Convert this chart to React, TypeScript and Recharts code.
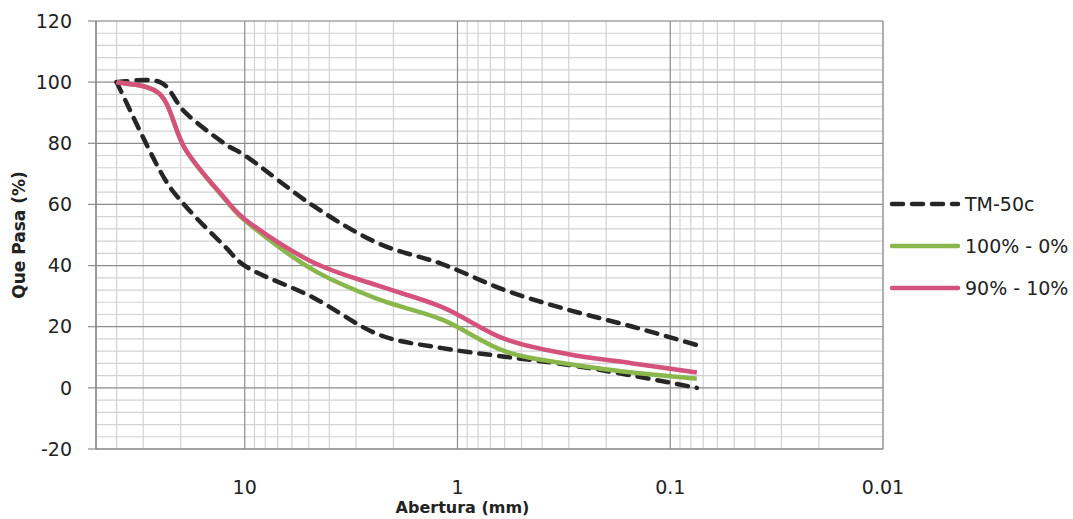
import React from "react";
import { LineChart, Line, XAxis, YAxis, CartesianGrid } from "recharts";

// tamices (mm) y porcentaje que pasa
const aberturas = [40, 25, 19, 12.5, 9.5, 4.75, 2.36, 1.18, 0.6, 0.3, 0.15, 0.075];
const tmSuperior = [100, 100, 90, 80, 75, 59.5, 47.3, 40.5, 32, 25.5, 20, 14];
const tmInferior = [100, 71, 59.5, 46.5, 39, 29.5, 17.5, 13, 10.2, 7.5, 4, 0];
const mezcla100 = [100, 96, 78, 62, 53.5, 38.5, 29, 22.3, 12, 7.8, 5, 3];
const mezcla90 = [100, 96, 78, 62.3, 54, 41, 33.4, 26.4, 16, 11, 8, 5];

const xTicks = [10, 1, 0.1, 0.01];
const xMinorTicks = [
  40, 30, 20, 9, 8, 7, 6, 5, 4, 3, 2, 0.9, 0.8, 0.7, 0.6, 0.5, 0.4, 0.3, 0.2,
  0.09, 0.08, 0.07, 0.06, 0.05, 0.04, 0.03, 0.02,
];
const yTicks = [-20, 0, 20, 40, 60, 80, 100, 120];
const yMinorTicks = [
  -16, -12, -8, -4, 4, 8, 12, 16, 24, 28, 32, 36, 44, 48, 52, 56, 64, 68, 72,
  76, 84, 88, 92, 96, 104, 108, 112, 116,
];

const data = aberturas.map((x, i) => ({
  x,
  sup: tmSuperior[i],
  inf: tmInferior[i],
  m100: mezcla100[i],
  m90: mezcla90[i],
}));

const font = "'DejaVu Sans', sans-serif";
const negro = "#262626";
const verde = "#89b74b";
const rosa = "#d4527b";

// suavizado tipo Excel (Catmull-Rom en bezier)
function curvaSuave(context: any) {
  let pts: number[][] = [];
  return {
    areaStart() {},
    areaEnd() {},
    lineStart() {
      pts = [];
    },
    lineEnd() {
      if (!pts.length) return;
      context.moveTo(pts[0][0], pts[0][1]);
      for (let i = 0; i < pts.length - 1; i++) {
        const p0 = pts[i - 1] || pts[i];
        const p1 = pts[i];
        const p2 = pts[i + 1];
        const p3 = pts[i + 2] || p2;
        context.bezierCurveTo(
          p1[0] + (p2[0] - p0[0]) / 6,
          p1[1] + (p2[1] - p0[1]) / 6,
          p2[0] - (p3[0] - p1[0]) / 6,
          p2[1] - (p3[1] - p1[1]) / 6,
          p2[0],
          p2[1]
        );
      }
    },
    point(x: number, y: number) {
      pts.push([+x, +y]);
    },
  };
}

function TituloX(props: any) {
  const vb = props.viewBox || { x: 96, y: 449, width: 787, height: 68 };
  return (
    <text
      x={vb.x + vb.width / 2 - 27}
      y={vb.y + 64}
      textAnchor="middle"
      fontFamily={font}
      fontWeight="bold"
      fontSize={16}
      fill="#222"
    >
      Abertura (mm)
    </text>
  );
}

function TituloY(props: any) {
  const vb = props.viewBox || { x: 0, y: 21, width: 96, height: 428 };
  const cx = vb.x + 19;
  const cy = vb.y + vb.height / 2;
  return (
    <text
      x={cx}
      y={cy}
      dy="0.35em"
      textAnchor="middle"
      transform={`rotate(-90 ${cx} ${cy})`}
      fontFamily={font}
      fontWeight="bold"
      fontSize={17}
      fill="#222"
    >
      Que Pasa (%)
    </text>
  );
}

const leyenda = [
  { name: "TM-50c", color: negro, dash: "11 9" },
  { name: "100% - 0%", color: verde, dash: undefined },
  { name: "90% - 10%", color: rosa, dash: undefined },
];

export default function App() {
  return (
    <div
      style={{
        position: "absolute",
        left: 0,
        top: 0,
        width: 1073,
        height: 519,
        background: "#fff",
      }}
    >
      <LineChart
        width={1073}
        height={519}
        data={data}
        margin={{ top: 21, right: 190, bottom: 2, left: 0 }}
      >
        <XAxis
          xAxisId="minor"
          dataKey="x"
          type="number"
          scale="log"
          domain={[0.01, 50]}
          reversed
          allowDataOverflow
          ticks={xMinorTicks}
          interval={0}
          hide
        />
        <YAxis
          yAxisId="minor"
          type="number"
          domain={[-20, 120]}
          allowDataOverflow
          ticks={yMinorTicks}
          interval={0}
          hide
        />
        <CartesianGrid
          xAxisId="minor"
          yAxisId="minor"
          stroke="#d2d2d2"
          strokeWidth={1.2}
        />
        <CartesianGrid stroke="#8c8c8c" strokeWidth={1.2} />
        <XAxis
          dataKey="x"
          type="number"
          scale="log"
          domain={[0.01, 50]}
          reversed
          allowDataOverflow
          ticks={xTicks}
          interval={0}
          height={68}
          tickLine={false}
          tickMargin={26}
          axisLine={{ stroke: "#8c8c8c", strokeWidth: 1.2 }}
          tick={{ fill: "#222", fontSize: 19, fontFamily: font }}
          tickFormatter={(v: number) => String(v)}
          label={<TituloX />}
        />
        <YAxis
          type="number"
          domain={[-20, 120]}
          allowDataOverflow
          ticks={yTicks}
          interval={0}
          width={96}
          tickSize={8}
          tickMargin={16}
          axisLine={{ stroke: "#8c8c8c", strokeWidth: 1.2 }}
          tickLine={{ stroke: "#8c8c8c", strokeWidth: 1.2 }}
          tick={{ fill: "#222", fontSize: 19, fontFamily: font }}
          label={<TituloY />}
        />
        <Line
          type={curvaSuave as any}
          dataKey="sup"
          stroke={negro}
          strokeWidth={4.5}
          strokeDasharray="11 9"
          strokeLinecap="round"
          dot={false}
          isAnimationActive={false}
        />
        <Line
          type={curvaSuave as any}
          dataKey="inf"
          stroke={negro}
          strokeWidth={4.5}
          strokeDasharray="11 9"
          strokeLinecap="round"
          dot={false}
          isAnimationActive={false}
        />
        <Line
          type={curvaSuave as any}
          dataKey="m100"
          stroke={verde}
          strokeWidth={4.5}
          dot={false}
          isAnimationActive={false}
        />
        <Line
          type={curvaSuave as any}
          dataKey="m90"
          stroke={rosa}
          strokeWidth={4.5}
          dot={false}
          isAnimationActive={false}
        />
      </LineChart>
      <div style={{ position: "absolute", left: 889, top: 193 }}>
        {leyenda.map((it) => (
          <div
            key={it.name}
            style={{
              display: "flex",
              alignItems: "center",
              height: 22,
              marginBottom: 20,
              fontFamily: font,
              fontSize: 19,
              color: "#222",
              whiteSpace: "nowrap",
            }}
          >
            <svg width={72} height={10} style={{ marginRight: 4 }}>
              <line
                x1={3}
                y1={5}
                x2={69}
                y2={5}
                stroke={it.color}
                strokeWidth={4.5}
                strokeDasharray={it.dash}
                strokeLinecap="round"
              />
            </svg>
            <span>{it.name}</span>
          </div>
        ))}
      </div>
    </div>
  );
}
